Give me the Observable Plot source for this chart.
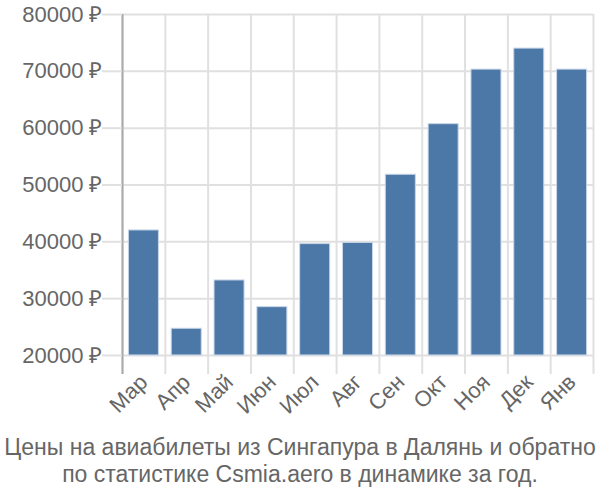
<!DOCTYPE html>
<html>
<head>
<meta charset="utf-8">
<script src="https://cdn.jsdelivr.net/npm/d3@7"></script>
<script src="https://cdn.jsdelivr.net/npm/@observablehq/plot@0.6"></script>
<style>
  body { margin: 0; background: #fff; font-family: "Liberation Sans", Arial, sans-serif; }
  #chart { width: 600px; }
  .caption { width: 600px; text-align: center; font-size: 23px; line-height: 27px; color: #666; margin-top: 0; white-space: nowrap; }
</style>
</head>
<body>
<div id="chart"></div>
<div class="caption">Цены на авиабилеты из Сингапура в Далянь и обратно<br>по статистике Csmia.aero в динамике за год.</div>
<script>
const months = ["Мар", "Апр", "Май", "Июн", "Июл", "Авг", "Сен", "Окт", "Ноя", "Дек", "Янв"];
const prices = [42000, 24700, 33200, 28500, 39600, 39800, 51800, 60700, 70300, 74000, 70300];
const yTicks = [20000, 30000, 40000, 50000, 60000, 70000, 80000];

const data = months.map((m, i) => ({month: m, price: prices[i]}));

const W = 600, H = 434, ML = 122, MR = 7, MT = 14, MB = 60;
const step = (W - ML - MR) / months.length;

const chart = Plot.plot({
  width: W,
  height: H,
  marginLeft: ML,
  marginRight: MR,
  marginTop: MT,
  marginBottom: MB,
  style: {fontFamily: "Liberation Sans, Arial, sans-serif", fontSize: "22px", color: "#666", background: "#fff"},
  x: {domain: months, padding: 0, round: false, label: null},
  y: {domain: [16650, 80000], label: null},
  marks: [
    Plot.ruleY(yTicks, {stroke: "#e0e0e0", strokeWidth: 2}),
    Plot.ruleX(months, {x: d => d, dx: -step / 2, stroke: "#e0e0e0", strokeWidth: 2}),
    Plot.ruleX([months[months.length - 1]], {x: d => d, dx: step / 2, stroke: "#e0e0e0", strokeWidth: 2}),
    Plot.ruleX([months[0]], {x: d => d, dx: -step / 2, stroke: "#aaa", strokeWidth: 2}),
    Plot.barY(data, {x: "month", y1: 20000, y2: "price", fill: "#4c78a8", stroke: "#c8d6e8", strokeWidth: 1, insetLeft: 6.4, insetRight: 6.4}),
    Plot.axisY({ticks: yTicks, tickFormat: d => d + " ₽", tickSize: 20, tickPadding: 0, stroke: "#e0e0e0", strokeWidth: 2, fontSize: 22, fill: "#666", label: null}),
    Plot.axisX({tickRotate: -45, tickSize: 0, tickPadding: 4, fontSize: 22, fill: "#666", label: null})
  ]
});
document.getElementById("chart").appendChild(chart);
</script>
</body>
</html>
